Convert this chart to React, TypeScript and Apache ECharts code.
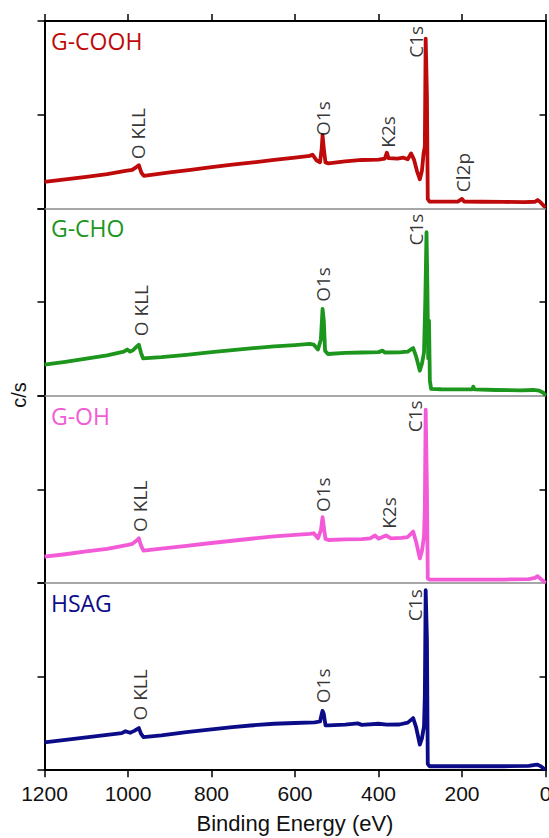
import { useEffect, useRef } from "react";
import * as echarts from "echarts";

// ---------- data ----------
const panelNames = ["G-COOH", "G-CHO", "G-OH", "HSAG"];
const panelColors = ["#BE0A0A", "#1C961C", "#F25AD8", "#0C0C88"];

// Binding energy (eV), intensity (panel-relative units 0..100)
const gCOOH: number[][] = [
  [1200, 14.1], [1150, 15.5], [1100, 16.8], [1050, 18.3], [1006, 20], [990, 20.5], [980, 22], [974, 23], [968, 19], [962, 17.3],
  [900, 19.2], [850, 20.5], [800, 22], [750, 23.3], [700, 24.5], [650, 25.8], [600, 27], [565, 28], [558, 28.6], [548, 25.5],
  [540, 24.6], [536, 32], [534, 38.9], [531, 32], [527, 24.5], [520, 24], [480, 25], [440, 25.8], [400, 26], [385, 26.5],
  [380, 29.7], [376, 26.8], [355, 26.5], [340, 27], [330, 26.2], [322, 29.3], [315, 26], [308, 20], [301, 15.5], [296, 20],
  [292, 29.3], [289, 33], [287, 90.6], [284, 60], [282, 5], [278, 3.6], [250, 3.6], [210, 3.6], [200, 5], [195, 3.6],
  [150, 3.5], [100, 3.4], [50, 3.3], [25, 3.5], [19, 4.4], [12, 3.2], [5, 1.5], [0, 0.5],
];
const gCHO: number[][] = [
  [1200, 16.5], [1150, 18], [1100, 19.7], [1050, 21.5], [1010, 23.5], [1002, 24.6], [995, 23.5], [988, 24.2], [980, 26], [974, 27.2],
  [969, 23], [964, 19.9], [920, 20.5], [860, 21.8], [800, 23.2], [750, 24.3], [700, 25.3], [650, 26.3], [600, 27], [565, 27.6],
  [555, 27.2], [545, 24.6], [538, 30], [534, 46.3], [531, 40], [528, 24], [521, 22.2], [480, 22.8], [440, 23], [400, 23.2],
  [390, 24], [385, 23], [350, 23.1], [330, 23.5], [317, 25.4], [310, 21], [301, 13.3], [296, 17], [291, 23], [288, 50],
  [285, 87.2], [283, 60], [281, 20], [279, 40], [277, 8], [274, 3.6], [250, 3.4], [200, 3.3], [175, 3.4], [173, 4.8],
  [170, 3.3], [120, 3], [60, 2.8], [30, 3], [15, 2.6], [5, 1.5], [0, 0],
];
const gOH: number[][] = [
  [1200, 14], [1150, 15.3], [1100, 16.8], [1050, 18.2], [1000, 20.3], [990, 20.8], [980, 22.5], [974, 23.8], [969, 20], [963, 17.2],
  [920, 18.3], [860, 19.8], [800, 21.3], [750, 22.5], [700, 23.7], [650, 24.8], [600, 25.6], [565, 26.2], [555, 26.5], [545, 23.8],
  [538, 28], [534, 35.1], [531, 30], [527, 23.5], [520, 22.9], [480, 23.2], [440, 23.4], [420, 23.8], [408, 25.3], [400, 23.6],
  [382, 25.3], [370, 23.8], [345, 24], [330, 24.5], [317, 27.4], [310, 22], [301, 13.1], [296, 17], [291, 24.7], [289, 40],
  [287, 92.5], [284, 50], [282, 2.3], [278, 1.8], [200, 1.8], [100, 1.8], [40, 2], [25, 2.7], [19, 3.6], [12, 2.2],
  [5, 1], [0, 0],
];
const hsag: number[][] = [
  [1200, 14.9], [1150, 16.2], [1100, 17.5], [1050, 18.8], [1015, 19.8], [1006, 20.8], [995, 20], [985, 21], [974, 22.5], [969, 19.5],
  [963, 17.7], [920, 18.6], [860, 20.3], [800, 21.8], [750, 23], [700, 24], [650, 24.8], [600, 25.2], [553, 25.5], [540, 26],
  [536, 30], [534, 31.7], [531, 30], [527, 24], [520, 23.9], [480, 24.3], [450, 25], [440, 24.2], [400, 24.8], [380, 24.3],
  [350, 24.4], [330, 25.4], [317, 27.8], [310, 23], [301, 13.7], [296, 17], [291, 23.4], [289, 40], [287, 96.1], [284, 70],
  [282, 3.4], [278, 2.1], [200, 2.1], [100, 2.1], [40, 2.3], [25, 2.8], [19, 3], [12, 2.2], [5, 1], [0, 0.4],
];
const spectra = [gCOOH, gCHO, gOH, hsag];

// peak annotations: [x (eV), y (panel units, label centre), text]
const gCOOHPeaks: (number | string)[][] = [
  [977, 39.9, "O KLL"], [532, 47.9, "O1s"], [378, 40.8, "K2s"], [309, 88.9, "C1s"], [198, 19.1, "Cl2p"],
];
const gCHOPeaks: (number | string)[][] = [
  [968, 45.4, "O KLL"], [532, 59.3, "O1s"], [309, 88.6, "C1s"],
];
const gOHPeaks: (number | string)[][] = [
  [972, 40.9, "O KLL"], [534, 47.1, "O1s"], [376, 37.3, "K2s"], [313, 88.9, "C1s"],
];
const hsagPeaks: (number | string)[][] = [
  [972, 40.2, "O KLL"], [534, 45, "O1s"], [313, 88.1, "C1s"],
];
const peakSets = [gCOOHPeaks, gCHOPeaks, gOHPeaks, hsagPeaks];

const xAxisTitle = "Binding Energy (eV)";
const yAxisTitle = "c/s";

// ---------- layout ----------
const W = 549;
const H = 838;
const PLOT_LEFT = 44.5;
const PLOT_RIGHT = 3.5;
const PANEL_H = 187.3;
const FIRST_TOP = 21;

export default function App() {
  const ref = useRef<HTMLDivElement>(null);

  useEffect(() => {
    if (!ref.current) return;
    const chart = echarts.init(ref.current, null, { renderer: "svg" });
    const tops = panelNames.map((_, i) => FIRST_TOP + i * PANEL_H);

    const grids = tops.map((t) => ({
      left: PLOT_LEFT,
      right: PLOT_RIGHT,
      top: t,
      height: PANEL_H,
      containLabel: false,
      outerBoundsMode: "none",
    }));

    const baseX = {
      type: "value" as const,
      min: 0,
      max: 1200,
      interval: 200,
      inverse: true,
      splitLine: { show: false },
      axisLabel: { show: false },
    };

    const xAxes: any[] = [];
    tops.forEach((_, i) => {
      xAxes.push({
        ...baseX,
        gridIndex: i,
        position: "top",
        axisLine: {
          show: true,
          onZero: false,
          lineStyle: { color: i === 0 ? "#000" : "#8a8a8a", width: i === 0 ? 2 : 1.5 },
        },
        axisTick: {
          show: i === 0,
          inside: false,
          length: 7,
          lineStyle: { color: "#000", width: 1.5 },
        },
      });
    });
    xAxes.push({
      ...baseX,
      gridIndex: 3,
      position: "bottom",
      axisLine: { show: true, onZero: false, lineStyle: { color: "#000", width: 2 } },
      axisTick: { show: true, inside: false, length: 7, lineStyle: { color: "#000", width: 1.5 } },
      axisLabel: {
        show: true,
        margin: 13,
        fontSize: 21,
        color: "#111",
        fontFamily: "Liberation Sans",
        formatter: (v: number) => String(v),
      },
      name: xAxisTitle,
      nameLocation: "middle",
      nameGap: 42,
      nameTextStyle: { fontSize: 22, color: "#111", fontFamily: "Liberation Sans" },
    });

    const yAxes: any[] = [];
    tops.forEach((_, i) => {
      yAxes.push({
        type: "value",
        gridIndex: i,
        position: "left",
        min: 0,
        max: 100,
        interval: 50,
        splitLine: { show: false },
        axisLabel: { show: false },
        axisLine: { show: true, onZero: false, lineStyle: { color: "#000", width: 2 } },
        axisTick: { show: true, inside: false, length: 7, lineStyle: { color: "#000", width: 1.5 } },
      });
      yAxes.push({
        type: "value",
        gridIndex: i,
        position: "right",
        min: 0,
        max: 100,
        interval: 50,
        splitLine: { show: false },
        axisLabel: { show: false },
        axisLine: { show: true, onZero: false, lineStyle: { color: "#000", width: 2 } },
        axisTick: {
          show: true,
          inside: true,
          length: 6,
          customValues: [50],
          lineStyle: { color: "#000", width: 1.5 },
        },
      });
    });

    const series: any[] = [];
    spectra.forEach((d, i) => {
      series.push({
        type: "line",
        xAxisIndex: i,
        yAxisIndex: i * 2,
        data: d,
        showSymbol: false,
        symbol: "none",
        lineStyle: { color: panelColors[i], width: 3.8, join: "round" },
        z: 3,
      });
      series.push({
        type: "scatter",
        xAxisIndex: i,
        yAxisIndex: i * 2,
        data: peakSets[i].map((p) => ({ value: [p[0], p[1]], name: p[2] })),
        symbolSize: 1,
        itemStyle: { color: "rgba(0,0,0,0)" },
        label: {
          show: true,
          position: "inside",
          rotate: 90,
          formatter: "{b}",
          color: "#000",
          fontSize: 19,
          fontFamily: "Open Sans",
        },
        z: 4,
      });
    });

    chart.setOption({
      animation: false,
      backgroundColor: "#fff",
      grid: grids,
      xAxis: xAxes,
      yAxis: yAxes,
      series,
      title: panelNames.map((n, i) => ({
        text: n,
        left: 51,
        top: tops[i] + 7,
        padding: 0,
        textStyle: {
          color: panelColors[i],
          fontSize: 23,
          fontWeight: "normal",
          fontFamily: "Open Sans",
          lineHeight: 26,
        },
      })),
      graphic: [
        {
          type: "text",
          x: 19,
          y: 395,
          rotation: Math.PI / 2,
          style: {
            text: yAxisTitle,
            fontSize: 20,
            fontFamily: "Liberation Sans",
            fill: "#111",
            align: "center",
            verticalAlign: "middle",
          },
        },
      ],
    });

    return () => chart.dispose();
  }, []);

  return (
    <div
      ref={ref}
      style={{ position: "absolute", left: 0, top: 0, width: W, height: H }}
    />
  );
}
